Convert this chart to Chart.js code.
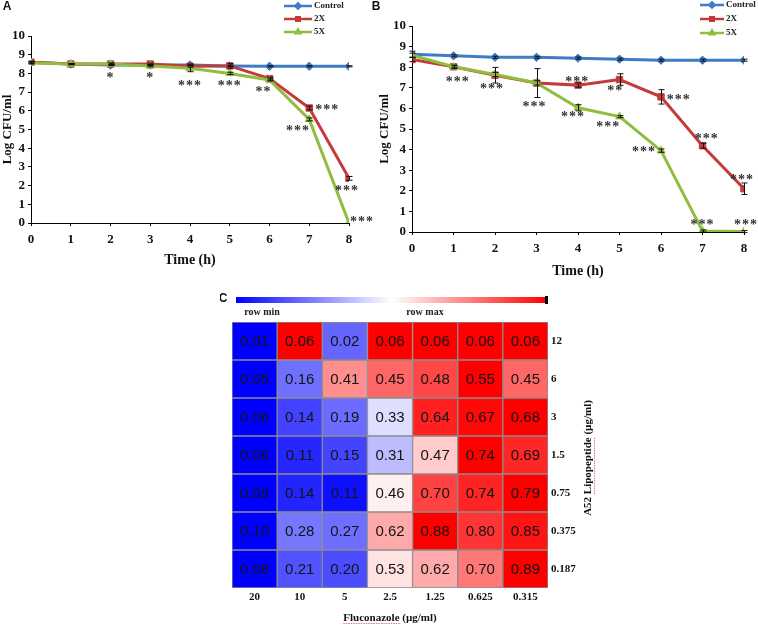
<!DOCTYPE html>
<html><head><meta charset="utf-8">
<script src="https://cdn.jsdelivr.net/npm/chart.js@4.4.1/dist/chart.umd.min.js"></script>
<style>
html,body{margin:0;padding:0;background:#fff;}
body{width:758px;height:625px;position:relative;overflow:hidden;}
canvas{position:absolute;}
</style></head><body>
<canvas id="cA" width="378" height="285" style="left:0;top:0;width:378px;height:285px"></canvas>
<canvas id="cB" width="388" height="285" style="left:370px;top:0;width:388px;height:285px"></canvas>
<canvas id="cC" width="538" height="340" style="left:220px;top:285px;width:538px;height:340px"></canvas>
<script>
// ---------------- DATA ----------------
const timesH = [0, 1, 2, 3, 4, 5, 6, 7, 8];
const seriesNames = ['Control', '2X', '5X'];

// Panel A
const aControl = [8.60, 8.50, 8.45, 8.45, 8.45, 8.40, 8.38, 8.38, 8.38];
const a2X      = [8.60, 8.50, 8.50, 8.50, 8.38, 8.40, 7.72, 6.15, 2.39];
const a5X      = [8.55, 8.50, 8.50, 8.40, 8.27, 8.00, 7.65, 5.54, 0.00];
const aErrControl = [0.05, 0.03, 0.03, 0.03, 0.05, 0.03, 0.03, 0.03, 0.03];
const aErr2X      = [0.05, 0.03, 0.05, 0.05, 0.05, 0.12, 0.08, 0.10, 0.10];
const aErr5X      = [0.05, 0.03, 0.05, 0.05, 0.18, 0.06, 0.06, 0.08, 0.00];
const aStarX    = [2, 3, 4, 5, 5.85, 7.45, 6.72, 7.95, 8.33];
const aStarY    = [7.9, 7.9, 7.5, 7.5, 7.15, 6.22, 5.06, 1.89, 0.21];
const aStarText = ['*', '*', '***', '***', '**', '***', '***', '***', '***'];

// Panel B
const bControl = [8.63, 8.55, 8.48, 8.48, 8.44, 8.39, 8.34, 8.34, 8.34];
const b2X      = [8.37, 8.02, 7.61, 7.23, 7.13, 7.40, 6.56, 4.19, 2.10];
const b5X      = [8.58, 8.02, 7.65, 7.24, 6.03, 5.60, 3.95, 0.05, 0.02];
const bErrControl = [0.15, 0.05, 0.05, 0.05, 0.05, 0.05, 0.05, 0.05, 0.05];
const bErr2X      = [0.10, 0.08, 0.38, 0.70, 0.10, 0.28, 0.35, 0.12, 0.28];
const bErr5X      = [0.10, 0.05, 0.10, 0.10, 0.15, 0.05, 0.08, 0.05, 0.05];
const bStarX    = [1.10, 1.93, 2.95, 3.98, 3.88, 4.90, 4.73, 6.43, 5.59, 7.10, 7.00, 7.95, 8.05];
const bStarY    = [7.42, 7.08, 6.23, 7.42, 5.73, 6.97, 5.23, 6.56, 4.02, 4.66, 0.48, 2.69, 0.48];
const bStarText = ['***', '***', '***', '***', '***', '**', '***', '***', '***', '***', '***', '***', '***'];

// Panel C (heatmap) rows top->bottom, columns left->right
const fluconazoleLabels = ['20', '10', '5', '2.5', '1.25', '0.625', '0.315'];
const lipopeptideLabels = ['12', '6', '3', '1.5', '0.75', '0.375', '0.187'];
const row12    = [0.01, 0.06, 0.02, 0.06, 0.06, 0.06, 0.06];
const row6     = [0.05, 0.16, 0.41, 0.45, 0.48, 0.55, 0.45];
const row3     = [0.06, 0.14, 0.19, 0.33, 0.64, 0.67, 0.68];
const row1_5   = [0.06, 0.11, 0.15, 0.31, 0.47, 0.74, 0.69];
const row0_75  = [0.09, 0.14, 0.11, 0.46, 0.70, 0.74, 0.79];
const row0_375 = [0.10, 0.28, 0.27, 0.62, 0.88, 0.80, 0.85];
const row0_187 = [0.08, 0.21, 0.20, 0.53, 0.62, 0.70, 0.89];
const heatRows = [row12, row6, row3, row1_5, row0_75, row0_375, row0_187];

// ---------------- STYLE ----------------
const SERIF = "'Liberation Serif', 'Times New Roman', serif";
const SANS = "'Liberation Sans', Arial, sans-serif";
const COLORS = { Control: '#3E7BC8', '2X': '#C33B3A', '5X': '#8FBE3F' };
const MARKERS = { Control: 'rectRot', '2X': 'rect', '5X': 'triangle' };
const RADII = { Control: 4.2, '2X': 4.5, '5X': 4.5 };
const ORDER = { Control: 3, '2X': 2, '5X': 1 };

// ---------------- PLUGINS ----------------
const errorBarsPlugin = {
  id: 'errorBars',
  afterDatasetsDraw(chart) {
    const { ctx, scales: { x, y } } = chart;
    ctx.save();
    ctx.strokeStyle = '#111';
    ctx.lineWidth = 1;
    chart.data.datasets.forEach(ds => {
      if (!ds.errValues) return;
      ds.data.forEach((p, i) => {
        const e = ds.errValues[i];
        if (!e) return;
        const px = Math.round(x.getPixelForValue(p.x)) + 0.5;
        const y1 = y.getPixelForValue(p.y + e), y2 = y.getPixelForValue(p.y - e);
        ctx.beginPath();
        ctx.moveTo(px, y1); ctx.lineTo(px, y2);
        ctx.moveTo(px - 3, y1); ctx.lineTo(px + 3, y1);
        ctx.moveTo(px - 3, y2); ctx.lineTo(px + 3, y2);
        ctx.stroke();
      });
    });
    ctx.restore();
  }
};

const starsPlugin = {
  id: 'stars',
  afterDatasetsDraw(chart, args, opts) {
    const { ctx, scales: { x, y } } = chart;
    ctx.save();
    ctx.font = 'bold 14px ' + SERIF;
    ctx.fillStyle = '#333';
    ctx.textAlign = 'center';
    ctx.textBaseline = 'alphabetic';
    try { ctx.letterSpacing = '1px'; } catch (e) {}
    opts.xs.forEach((sx, i) => {
      ctx.fillText(opts.texts[i], x.getPixelForValue(sx), y.getPixelForValue(opts.ys[i]) + 7);
    });
    ctx.restore();
  }
};

const legendPlugin = {
  id: 'cornerLegend',
  afterDraw(chart, args, opts) {
    const { ctx } = chart;
    ctx.save();
    chart.data.datasets.forEach((ds, i) => {
      const yy = opts.y + i * opts.gap;
      ctx.strokeStyle = ds.borderColor;
      ctx.lineWidth = 2.5;
      ctx.beginPath();
      ctx.moveTo(opts.x, yy); ctx.lineTo(opts.x + opts.w, yy);
      ctx.stroke();
      Chart.helpers.drawPoint(ctx, { pointStyle: ds.pointStyle, radius: 2.5, rotation: 0, borderWidth: 1 },
        opts.x + opts.w / 2, yy);
      ctx.fillStyle = ds.borderColor;
      ctx.fill();
      ctx.fillStyle = '#222';
      ctx.font = 'bold 9px ' + SERIF;
      ctx.textAlign = 'left';
      ctx.textBaseline = 'middle';
      ctx.fillText(ds.label, opts.x + opts.w + 2, yy);
    });
    ctx.restore();
  }
};

const panelLetterPlugin = {
  id: 'panelLetter',
  afterDraw(chart, args, opts) {
    const { ctx } = chart;
    ctx.save();
    ctx.font = 'bold 12px ' + SANS;
    ctx.fillStyle = '#111';
    ctx.textAlign = 'center';
    ctx.textBaseline = 'middle';
    ctx.fillText(opts.text, opts.x, opts.y);
    ctx.restore();
  }
};

function makeDataset(name, values, errs) {
  return {
    label: name,
    data: timesH.map((t, i) => ({ x: t, y: values[i] })),
    errValues: errs,
    borderColor: COLORS[name],
    backgroundColor: COLORS[name],
    borderWidth: 3,
    pointStyle: MARKERS[name],
    pointRadius: RADII[name],
    pointBorderWidth: 1,
    pointBackgroundColor: COLORS[name],
    pointBorderColor: COLORS[name],
    tension: 0,
    order: ORDER[name]
  };
}

function lineChart(id, cfg) {
  const tickFont = { family: SERIF, size: 13, weight: 'bold' };
  const titleFont = { family: SERIF, size: 14, weight: 'bold' };
  return new Chart(document.getElementById(id), {
    type: 'line',
    data: {
      datasets: [
        makeDataset('Control', cfg.control, cfg.errC),
        makeDataset('2X', cfg.x2, cfg.err2),
        makeDataset('5X', cfg.x5, cfg.err5)
      ]
    },
    plugins: [errorBarsPlugin, starsPlugin, legendPlugin, panelLetterPlugin],
    options: {
      responsive: false, animation: false, devicePixelRatio: 1,
      layout: { padding: cfg.pad },
      plugins: {
        legend: { display: false }, tooltip: { enabled: false },
        stars: { xs: cfg.starX, ys: cfg.starY, texts: cfg.starText },
        cornerLegend: cfg.legend,
        panelLetter: cfg.letter
      },
      scales: {
        x: {
          type: 'linear', min: 0, max: 8,
          ticks: { stepSize: 1, font: tickFont, color: '#111', padding: 6 },
          grid: { display: true, drawOnChartArea: false, drawTicks: true, tickLength: 3, color: '#000' },
          border: { display: true, color: '#000', width: 1 },
          title: { display: true, text: 'Time (h)', font: titleFont, color: '#111', padding: { top: 0, bottom: 0 } },
          afterFit(s) { s.height = cfg.xH; }
        },
        y: {
          type: 'linear', min: 0, max: 10,
          ticks: { stepSize: 1, font: tickFont, color: '#111', padding: 3 },
          grid: { display: true, drawOnChartArea: false, drawTicks: true, tickLength: 3, color: '#000' },
          border: { display: true, color: '#000', width: 1 },
          title: { display: true, text: 'Log CFU/ml', font: { family: SERIF, size: 13, weight: 'bold' }, color: '#111', padding: { top: 0, bottom: 0 } },
          afterFit(s) { s.width = cfg.yW; }
        }
      }
    }
  });
}

lineChart('cA', {
  control: aControl, x2: a2X, x5: a5X, errC: aErrControl, err2: aErr2X, err5: aErr5X,
  starX: aStarX, starY: aStarY, starText: aStarText,
  pad: { left: 0, right: 29, top: 36, bottom: 16 }, xH: 46, yW: 31,
  legend: { x: 284, y: 6, w: 28, gap: 13 },
  letter: { text: 'A', x: 7, y: 7 }
});

lineChart('cB', {
  control: bControl, x2: b2X, x5: b5X, errC: bErrControl, err2: bErr2X, err5: bErr5X,
  starX: bStarX, starY: bStarY, starText: bStarText,
  pad: { left: 7, right: 14, top: 26, bottom: 5 }, xH: 48, yW: 35,
  legend: { x: 330, y: 5, w: 24, gap: 14 },
  letter: { text: 'B', x: 6, y: 7 }
});

// ---------------- HEATMAP ----------------
function heatColor(v, row) {
  const mn = Math.min(...row), mx = Math.max(...row);
  const t = mx > mn ? (v - mn) / (mx - mn) : 0.5;
  let r, g, b;
  if (t < 0.5) { const s = t / 0.5; r = 255 * s; g = 255 * s; b = 255; }
  else { const s = (t - 0.5) / 0.5; r = 255; g = 255 * (1 - s); b = 255 * (1 - s); }
  return `rgb(${Math.round(r)},${Math.round(g)},${Math.round(b)})`;
}

const nRows = heatRows.length;
const heatDatasets = [];
for (let k = 0; k < nRows; k++) {
  const rowIdx = nRows - 1 - k; // bottom row first in stack
  const row = heatRows[rowIdx];
  heatDatasets.push({
    label: lipopeptideLabels[rowIdx],
    data: row.map(() => 1),
    cellValues: row,
    backgroundColor: row.map(v => heatColor(v, row)),
    borderColor: '#8c8c8c',
    borderWidth: 1,
    borderSkipped: false,
    barPercentage: 1,
    categoryPercentage: 1
  });
}

const heatPlugin = {
  id: 'heatExtras',
  afterDatasetsDraw(chart) {
    const { ctx, scales: { x, y }, chartArea } = chart;
    ctx.save();
    // cell numbers
    ctx.font = '15px ' + SANS;
    ctx.fillStyle = '#141414';
    ctx.textAlign = 'center';
    ctx.textBaseline = 'middle';
    heatRows.forEach((row, i) => {
      row.forEach((v, j) => {
        ctx.fillText(v.toFixed(2), x.getPixelForValue(j), y.getPixelForValue(nRows - 0.5 - i) + 1);
      });
    });
    ctx.restore();
  },
  afterDraw(chart) {
    const { ctx, chartArea } = chart;
    ctx.save();
    // colour bar
    const x0 = chartArea.left + 4, x1 = chartArea.right - 1;
    const grad = ctx.createLinearGradient(x0, 0, x1, 0);
    grad.addColorStop(0, 'rgb(0,0,255)');
    grad.addColorStop(0.5, 'rgb(255,255,255)');
    grad.addColorStop(1, 'rgb(255,0,0)');
    ctx.fillStyle = grad;
    ctx.fillRect(x0, 12, x1 - x0, 6);
    ctx.fillStyle = '#000';
    ctx.fillRect(x1 - 2, 11, 3, 8);
    ctx.font = 'bold 10px ' + SERIF;
    ctx.fillStyle = '#222';
    ctx.textAlign = 'center';
    ctx.textBaseline = 'middle';
    ctx.fillText('row min', 42, 27);
    ctx.fillText('row max', 205, 27);
    // panel letter
    ctx.font = 'bold 12px ' + SANS;
    ctx.fillStyle = '#111';
    ctx.fillText('C', 3, 14);
    // right axis title
    const ty = (chartArea.top + chartArea.bottom) / 2 + 3;
    const tx = 368;
    ctx.translate(tx, ty);
    ctx.rotate(-Math.PI / 2);
    ctx.font = 'bold 11px ' + SERIF;
    ctx.fillStyle = '#111';
    const title = 'A52 Lipopeptide (µg/ml)';
    ctx.fillText(title, 0, 0);
    const tw = ctx.measureText(title).width;
    const pre = ctx.measureText('A52 ').width;
    const word = ctx.measureText('Lipopeptide').width;
    ctx.strokeStyle = 'rgba(230,80,80,0.8)';
    ctx.lineWidth = 1;
    ctx.setLineDash([1.5, 1]);
    ctx.beginPath();
    ctx.moveTo(-tw / 2 + pre, 6.5); ctx.lineTo(-tw / 2 + pre + word, 6.5);
    ctx.stroke();
    ctx.setTransform(1, 0, 0, 1, 0, 0);
    // underline for x title word
    ctx.font = 'bold 11px ' + SERIF;
    const xt = 'Fluconazole (µg/ml)';
    const xw = ctx.measureText(xt).width;
    const fw = ctx.measureText('Fluconazole').width;
    const cx = (chartArea.left + chartArea.right) / 2;
    ctx.beginPath();
    ctx.moveTo(cx - xw / 2, 338.5); ctx.lineTo(cx - xw / 2 + fw, 338.5);
    ctx.stroke();
    ctx.restore();
  }
};

new Chart(document.getElementById('cC'), {
  type: 'bar',
  data: { labels: fluconazoleLabels, datasets: heatDatasets },
  plugins: [heatPlugin],
  options: {
    responsive: false, animation: false, devicePixelRatio: 1,
    layout: { padding: { left: 12, right: 10, top: 37, bottom: 0 } },
    plugins: { legend: { display: false }, tooltip: { enabled: false } },
    scales: {
      x: {
        stacked: true,
        grid: { display: false, drawTicks: false },
        border: { display: false },
        ticks: { font: { family: SERIF, size: 11, weight: 'bold' }, color: '#111', padding: 3 },
        title: { display: true, text: 'Fluconazole (µg/ml)', font: { family: SERIF, size: 11, weight: 'bold' }, color: '#111', padding: { top: 0, bottom: 0 } },
        afterFit(s) { s.height = 37; }
      },
      y: {
        stacked: true, position: 'right', min: 0, max: nRows,
        afterBuildTicks(s) { s.ticks = lipopeptideLabels.map((l, i) => ({ value: nRows - 0.5 - i })); },
        ticks: {
          font: { family: SERIF, size: 11, weight: 'bold' }, color: '#111', padding: 3,
          callback: (v) => lipopeptideLabels[Math.round(nRows - 0.5 - v)]
        },
        grid: { display: false, drawTicks: false },
        border: { display: false },
        afterFit(s) { s.width = 200; }
      }
    }
  }
});
</script>
</body></html>
